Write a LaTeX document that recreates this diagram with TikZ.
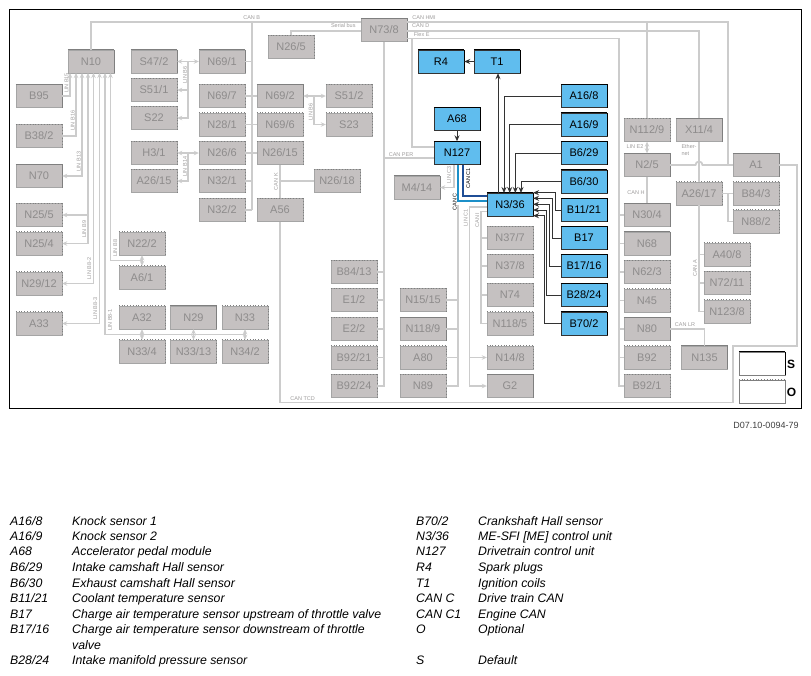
\documentclass[tikz,border=0pt]{standalone}
\usepackage{fontspec}
\usetikzlibrary{arrows.meta}
\setmainfont{Liberation Sans}
\definecolor{boxgry}{HTML}{C5C1C1}
\definecolor{txtgry}{HTML}{8E8C8C}
\definecolor{edgegry}{HTML}{7F7F7F}
\definecolor{busgry}{HTML}{CCCCCC}
\definecolor{boxblu}{HTML}{60BDEE}
\definecolor{canc}{HTML}{1C8FC8}
\definecolor{cancb}{HTML}{1F4E96}
\definecolor{ctldk}{HTML}{333333}
\tikzset{
    basebox/.style={draw, inner sep=0pt, minimum width=46pt, minimum height=23pt, font=\fontsize{11}{13}\selectfont},
    sbox/.style={basebox, fill=boxgry, draw=edgegry!70, text=txtgry,
        append after command={(\tikzlastnode.north west) edge[edgegry, line width=1.3pt] (\tikzlastnode.north east)
        (\tikzlastnode.north east) edge[edgegry, line width=1.3pt] (\tikzlastnode.south east)}},
    obox/.style={basebox, fill=boxgry, draw=edgegry!70, text=txtgry,
        append after command={(\tikzlastnode.north west) edge[edgegry, line width=1pt, dash pattern=on 1pt off 1.8pt] (\tikzlastnode.north east)
        (\tikzlastnode.north east) edge[edgegry, line width=1pt, dash pattern=on 1pt off 1.8pt] (\tikzlastnode.south east)}},
    hbox/.style={basebox, fill=boxblu, draw=black!80, text=black,
        append after command={(\tikzlastnode.north west) edge[black, line width=1.3pt] (\tikzlastnode.north east)
        (\tikzlastnode.north east) edge[black, line width=1.3pt] (\tikzlastnode.south east)}},
    bus/.style={busgry, line width=1.8pt},
    linb/.style={busgry, line width=1.2pt, >={Stealth[length=5pt, width=4.5pt]}},
    ctl/.style={ctldk, line width=1pt, >={Stealth[length=6pt, width=5pt]}},
    lbl/.style={text=txtgry!85, inner sep=0pt, font=\fontsize{5.5}{6.5}\selectfont},
    lblk/.style={text=black, inner sep=0pt, font=\fontsize{5.5}{6.5}\selectfont},
    leg/.style={anchor=base west, inner sep=0pt, font=\fontsize{12.3}{14}\selectfont\itshape},
}
\begin{document}
\begin{tikzpicture}[x=1pt, y=-1pt]
    \useasboundingbox (0,0) rectangle (811,675);
    \fill[white] (0,0) rectangle (811,675);
    \draw[black, line width=1pt] (9.5,9.5) rectangle (801,408);

    % left column
    \node[sbox] (n10) at (91,61.5){N10};
    \node[sbox] (b95) at (39,96){B95};
    \node[obox] (b382) at (39,136){B38/2};
    \node[sbox] (n70) at (39,176){N70};
    \node[obox] (n255) at (39,215){N25/5};
    \node[obox] (n254) at (39,243.5){N25/4};
    \node[obox] (n2912) at (39,283.5){N29/12};
    \node[obox] (a33) at (39,323.5){A33};

    \node[sbox] (s472) at (154,61.5){S47/2};
    \node[obox] (s511) at (154,90){S51/1};
    \node[obox] (s22) at (154,118){S22};
    \node[obox] (h31) at (154,153){H3/1};
    \node[obox] (a2615) at (154,181){A26/15};

    \node[sbox] (n691) at (222,61.5){N69/1};
    \node[obox] (n697) at (222,96){N69/7};
    \node[obox] (n281) at (222,124.5){N28/1};
    \node[obox] (n266) at (222,153){N26/6};
    \node[obox] (n321) at (222,181){N32/1};
    \node[obox] (n322) at (222,210){N32/2};

    \node[sbox] (n692) at (280,96){N69/2};
    \node[obox] (n696) at (280,124.5){N69/6};
    \node[obox] (n2615) at (280,153){N26/15};
    \node[obox] (a56) at (280,210){A56};
    \node[obox] (n265) at (291,47){N26/5};
    \node[obox] (s512) at (349,96){S51/2};
    \node[obox] (s23) at (349,124.5){S23};
    \node[obox] (n2618) at (337,181){N26/18};
    \node[sbox] (n738) at (384,30){N73/8};
    \node[sbox] (m414) at (417,187.5){M4/14};

    \node[obox] (n222) at (142,243.5){N22/2};
    \node[obox] (a61) at (142,277.5){A6/1};
    \node[obox] (a32) at (142,317.5){A32};
    \node[sbox] (n29) at (193.5,317.5){N29};
    \node[obox] (n33) at (245,317.5){N33};
    \node[obox] (n334) at (142,351.5){N33/4};
    \node[obox] (n3313) at (193.5,351.5){N33/13};
    \node[obox] (n342) at (245,351.5){N34/2};

    \node[obox] (b8413) at (354,272){B84/13};
    \node[obox] (e12) at (354,300){E1/2};
    \node[obox] (e22) at (354,329){E2/2};
    \node[obox] (b9221) at (354,357.5){B92/21};
    \node[obox] (b9224) at (354,386){B92/24};
    \node[obox] (n1515) at (423,300){N15/15};
    \node[sbox] (n1189) at (423,329){N118/9};
    \node[obox] (a80) at (423,357.5){A80};
    \node[obox] (n89) at (423,386){N89};

    \node[obox] (n377) at (510,238){N37/7};
    \node[obox] (n378) at (510,266){N37/8};
    \node[obox] (n74) at (510,295){N74};
    \node[obox] (n1185) at (510,323.5){N118/5};
    \node[obox] (n148) at (510,357.5){N14/8};
    \node[sbox] (g2) at (510,386){G2};

    % blue ones
    \node[hbox] (r4) at (441,61.5){R4};
    \node[hbox] (t1) at (497,61.5){T1};
    \node[hbox] (a68) at (457,119){A68};
    \node[hbox] (n127) at (457,153){N127};
    \node[hbox] (n336) at (510,204.5){N3/36};
    \node[hbox] (a168) at (584,96){A16/8};
    \node[hbox] (a169) at (584,124.5){A16/9};
    \node[hbox] (b629) at (584,153){B6/29};
    \node[hbox] (b630) at (584,181.5){B6/30};
    \node[hbox] (b1121) at (584,210){B11/21};
    \node[hbox] (b17) at (584,238){B17};
    \node[hbox] (b1716) at (584,266){B17/16};
    \node[hbox] (b2824) at (584,295){B28/24};
    \node[hbox] (b702) at (584,323.5){B70/2};

    % right part
    \node[obox] (n1129) at (647,130){N112/9};
    \node[sbox] (x114) at (699,130){X11/4};
    \node[sbox] (n25) at (647,165){N2/5};
    \node[sbox] (a1) at (756,165){A1};
    \node[obox] (a2617) at (699,193.5){A26/17};
    \node[obox] (b843) at (756,193.5){B84/3};
    \node[obox] (n882) at (756,221.5){N88/2};
    \node[sbox] (n304) at (647,215){N30/4};
    \node[sbox] (n68) at (647,243.5){N68};
    \node[obox] (n623) at (647,272){N62/3};
    \node[obox] (n45) at (647,300.5){N45};
    \node[sbox] (n80) at (647,329){N80};
    \node[obox] (b92) at (647,357.5){B92};
    \node[obox] (b921) at (647,386){B92/1};
    \node[obox] (a408) at (727,254.5){A40/8};
    \node[obox] (n7211) at (727,283){N72/11};
    \node[obox] (n1238) at (727,311.5){N123/8};
    \node[sbox] (n135) at (704.5,357.5){N135};

    % S and O
    \node[hbox, fill=white, draw=edgegry] (sfld) at (762,363.5){};
    \node[obox, fill=white, draw=edgegry] (ofld) at (762,391.5){};
    \node[inner sep=0pt, font=\fontsize{12}{14}\selectfont\bfseries] (stxt) at (791,364){S};
    \node[inner sep=0pt, font=\fontsize{12}{14}\selectfont\bfseries] (otxt) at (791.5,392){O};

    \coordinate (canb) at (252,21.7);
    \coordinate (canhmi) at (728,21.7);
    \coordinate (cand) at (699,30.7);
    \coordinate (serbus) at (291,30.7);
    \coordinate (flexe) at (619,38.5);
    \coordinate (flexn) at (412,38.5);
    \coordinate (flexk) at (412,147);
    \coordinate (canper) at (384,158);
    \coordinate (bump) at (699,165);
    \coordinate (cantcd) at (733,402.5);
    \coordinate (cantcdb) at (733,346);
    \coordinate (cantcdc) at (797,346);

    % CAN B
    \draw[bus] (n10.north) |- (n738.west |- canb);
    \draw[bus] (canb) -- (canb |- n322.east);
    \draw[bus] (n691.east) -- (n691.east -| canb);
    \draw[bus] (n321.east) -- (n321.east -| canb);
    \draw[bus] (n322.east) -- (n322.east -| canb);
    \draw[bus] (n697.east) -- (n692.west);
    \draw[bus] (n281.east) -- (n696.west);
    \draw[bus] (n266.east) -- (n2615.west);

    % from N73/8
    \draw[bus] (n738.west |- serbus) -| (n265.north);
    \draw[bus] (n738.east |- canhmi) -- (canhmi) -- (canhmi |- bump);
    \draw[bus] (n738.east |- cand) -| (x114.north);
    \draw[bus] (n1129.north |- canhmi) -- (n1129.north);
    \draw[bus] (n738.east |- flexe) -- (flexe) -- (flexe |- b921.east) -- (b921.west);
    \draw[bus] (flexn) -- (flexk) -- (flexk -| n127.west);
    \draw[bus] (n738.south) -- (n738.south |- b9224.east) -- (b9224.east);
    \draw[bus] (n738.south |- canper) -- (n127.west |- canper);
    \draw[bus] (b8413.east) -- (b8413.east -| n738.south);
    \draw[bus] (e12.east) -- (e12.east -| n738.south);
    \draw[bus] (e22.east) -- (e22.east -| n738.south);
    \draw[bus] (b9221.east) -- (b9221.east -| n738.south);

    \draw[bus] (n304.west) -- (n304.west -| flexe);
    \draw[bus] (n68.west) -- (n68.west -| flexe);
    \draw[bus] (n623.west) -- (n623.west -| flexe);
    \draw[bus] (n45.west) -- (n45.west -| flexe);
    \draw[bus] (n80.west) -- (n80.west -| flexe);
    \draw[bus] (b92.west) -- (b92.west -| flexe);

    % right side
    \draw[linb, <->] (n1129.south) -- (n25.north);
    \draw[bus] (n25.south) -- (n304.north);
    \draw[bus] (n25.east) -- ([xshift=-3.5pt]bump) arc[start angle=180, end angle=0, radius=3.5pt] -- (a1.west);
    \draw[bus] (x114.south) -- (a2617.north);
    \draw[bus] (a2617.east) -- (b843.west);
    \draw[linb] (canhmi |- a2617.east) |- (n882.west);
    \draw[bus] (a2617.south) |- (n1238.west);
    \draw[bus] (a408.west) -- (a408.west -| a2617.south);
    \draw[bus] (n7211.west) -- (n7211.west -| a2617.south);
    \draw[bus] (n80.east) -| (n135.north);

    % CAN TCD
    \draw[bus] (a56.south) |- (cantcd) -- (cantcdb) -- (cantcdc) |- (a1.east);
    \draw[bus] (n2615.south) -- (a56.north);
    \draw[bus] (n2618.west) -- (n2618.west -| a56.north);

    % LIN to N10
    \coordinate (l15) at (70,73);
    \coordinate (l16) at (76,73);
    \coordinate (l13) at (82,73);
    \coordinate (l9) at (88,73);
    \coordinate (l82) at (93.5,73);
    \coordinate (l83) at (99.5,73);
    \coordinate (l81) at (105,73);
    \coordinate (l8) at (110.5,73);
    \coordinate (l81b) at (245,334.3);
    \coordinate (l8b) at (142,260.7);
    \draw[linb, <-] (l15) |- (b95.east);
    \draw[linb, <-] (l16) |- (b382.east);
    \draw[linb, <->] (l13) |- (n70.east);
    \draw[linb, <->] (l9) |- (n254.east);
    \draw[linb, ->] (l9 |- n255.east) -- (n255.east);
    \draw[linb, <->] (l82) |- (n2912.east);
    \draw[linb, <->] (l83) |- (a33.east);
    \draw[linb, <-] (l81) |- (l81b);
    \draw[linb, <-] (l8) |- (l8b);
    \draw[linb, <->] (n222.south) -- (a61.north);
    \draw[linb, <->] (a32.south) -- (n334.north);
    \draw[linb, <->] (n29.south) -- (n3313.north);
    \draw[linb, <->] (n33.south) -- (n342.north);

    % LIN B6, B14
    \coordinate (lb6) at (188,61.5);
    \coordinate (lb6r) at (314,96);
    \coordinate (lb14) at (188,153);
    \draw[linb, <->] (s472.east) -- (n691.west);
    \draw[linb, ->] (lb6) |- (s22.east);
    \draw[linb, ->] (lb6 |- s511.east) -- (s511.east);
    \draw[linb, <->] (n692.east) -- (s512.west);
    \draw[linb, ->] (lb6r) |- (s23.west);
    \draw[linb, <->] (h31.east) -- (n266.west);
    \draw[linb, ->] (lb14) |- (a2615.east);

    % CAN C, grey part
    \coordinate (cancn) at (457.7,165);
    \coordinate (cancb) at (463.3,165);
    \coordinate (linc3) at (454,165);
    \coordinate (linc1) at (469.3,207);
    \coordinate (cani) at (481,211.5);
    \draw[bus] (cancn |- n336.west) -- (cancn |- n89.east) -- (n89.east);
    \draw[bus] (n1515.east) -- (n1515.east -| cancn);
    \draw[bus] (n1189.east) -- (n1189.east -| cancn);
    \draw[bus] (a80.east) -- (a80.east -| cancn);
    \draw[linb, ->] (linc3) |- (m414.east);
    \draw[linb, ->] (n336.west |- linc1) -| (linc1 |- g2.west) -- (g2.west);
    \draw[linb, ->] (linc1 |- n148.west) -- (n148.west);
    \draw[bus] (n336.west |- cani) -| (cani |- n1185.west) -- (n1185.west);
    \draw[linb] (n377.west) -- (n377.west -| cani);
    \draw[linb] (n378.west) -- (n378.west -| cani);
    \draw[linb] (n74.west) -- (n74.west -| cani);

    % CAN C, CAN C1
    \draw[canc, line width=1.8pt] (cancn) |- (n336.west |- 0,200.8);
    \draw[cancb, line width=1.8pt] (cancb) |- (n336.west |- 0,196);

    % control lines
    \draw[ctl, ->] (t1.west) -- (r4.east);
    \draw[ctl, ->] (a68.south) -- (n127.north);
    \coordinate (n336t) at (498,193);
    \coordinate (at1) at (504,193);
    \coordinate (at2) at (509.7,193);
    \coordinate (at3) at (515.3,193);
    \coordinate (at4) at (521,193);
    \draw[ctl, ->] (n336t) -- (n336t |- t1.south);
    \draw[ctl, ->] (a168.west) -| (at1);
    \draw[ctl, ->] (a169.west) -| (at2);
    \draw[ctl, ->] (b629.west) -| (at3);
    \draw[ctl, ->] (b630.west) -| (at4);

    \coordinate (ar1) at (533,192.7);
    \coordinate (ar2) at (533,198.3);
    \coordinate (ar3) at (533,204.3);
    \coordinate (ar4) at (533,210);
    \coordinate (ar5) at (533,215.7);
    \coordinate (kn1) at (555.7,192.7);
    \coordinate (kn2) at (552.3,198.3);
    \coordinate (kn3) at (549.3,204.3);
    \coordinate (kn4) at (546.7,210);
    \coordinate (kn5) at (544,215.7);
    \draw[ctl, <-] (ar1) -- (kn1) |- (b1121.west);
    \draw[ctl, <-] (ar2) -- (kn2) |- (b17.west);
    \draw[ctl, <-] (ar3) -- (kn3) |- (b1716.west);
    \draw[ctl, <-] (ar4) -- (kn4) |- (b2824.west);
    \draw[ctl, <-] (ar5) -- (kn5) |- (b702.west);

    % bus names
    \node[lbl] (tcanb) at (251.7,17.3){CAN B};
    \node[lbl] (tser) at (343.3,26){Serial bus};
    \node[lbl] (thmi) at (424,17.3){CAN HMI};
    \node[lbl] (tcand) at (420.7,26){CAN D};
    \node[lbl] (tflex) at (421.7,34.7){Flex E};
    \node[lbl] (tper) at (401,154.3){CAN PER};
    \node[lbl] (ttcd) at (302.7,399){CAN TCD};
    \node[lbl] (te2) at (635,147){LIN E2};
    \node[lbl, align=left] (teth) at (689,150){Ether-\\net};
    \node[lbl] (tcanh) at (636,192.7){CAN H};
    \node[lbl] (tlr) at (685,325){CAN LR};
    \node[lbl, rotate=90] (tb15) at (66.5,83){LIN B15};
    \node[lbl, rotate=90] (tb16) at (72.7,120.7){LIN B16};
    \node[lbl, rotate=90] (tb13) at (78.7,161.7){LIN B13};
    \node[lbl, rotate=90] (tb9) at (84.3,229.3){LIN B9};
    \node[lbl, rotate=90] (tb82) at (89.3,268.7){LIN B8-2};
    \node[lbl, rotate=90] (tb83) at (95.3,308.7){LIN B8-3};
    \node[lbl, rotate=90] (tb81) at (110,320){LIN B8-1};
    \node[lbl, rotate=90] (tb8) at (115.3,248.3){LIN B8};
    \node[lbl, rotate=90] (tb6) at (185,75){LIN B6};
    \node[lbl, rotate=90] (tb14) at (185,166.7){LIN B14};
    \node[lbl, rotate=90] (tb6r) at (310.7,111.7){LIN B6};
    \node[lbl, rotate=90] (tcank) at (276,181.7){CAN K};
    \node[lbl, rotate=90] (tc3) at (449,175){LIN C3};
    \node[lbl, rotate=90] (tc1) at (465.7,218){LIN C1};
    \node[lbl, rotate=90] (tcani) at (477.3,220){CAN I};
    \node[lbl, rotate=90] (tcana) at (695,268.3){CAN A};
    \node[lblk, rotate=90] (tcanc1) at (468.3,178.3){CAN C1};
    \node[lblk, rotate=90] (tcanc) at (454.7,201.7){CAN C};

    \node[inner sep=0pt, text=black!75, font=\fontsize{9}{11}\selectfont] (docnr) at (766,425.5){D07.10-0094-79};

    % legend
    \node[leg] (k1) at (10,525){A16/8};
    \node[leg] (d1) at (72,525){Knock sensor 1};
    \node[leg] (k2) at (10,540){A16/9};
    \node[leg] (d2) at (72,540){Knock sensor 2};
    \node[leg] (k3) at (10,555){A68};
    \node[leg] (d3) at (72,555){Accelerator pedal module};
    \node[leg] (k4) at (10,571){B6/29};
    \node[leg] (d4) at (72,571){Intake camshaft Hall sensor};
    \node[leg] (k5) at (10,587){B6/30};
    \node[leg] (d5) at (72,587){Exhaust camshaft Hall sensor};
    \node[leg] (k6) at (10,602){B11/21};
    \node[leg] (d6) at (72,602){Coolant temperature sensor};
    \node[leg] (k7) at (10,618){B17};
    \node[leg] (d7) at (72,618){Charge air temperature sensor upstream of throttle valve};
    \node[leg] (k8) at (10,633){B17/16};
    \node[leg] (d8) at (72,633){Charge air temperature sensor downstream of throttle};
    \node[leg] (d8b) at (72,649){valve};
    \node[leg] (k9) at (10,664){B28/24};
    \node[leg] (d9) at (72,664){Intake manifold pressure sensor};

    \node[leg] (k10) at (416,525){B70/2};
    \node[leg] (d10) at (478,525){Crankshaft Hall sensor};
    \node[leg] (k11) at (416,540){N3/36};
    \node[leg] (d11) at (478,540){ME-SFI [ME] control unit};
    \node[leg] (k12) at (416,555){N127};
    \node[leg] (d12) at (478,555){Drivetrain control unit};
    \node[leg] (k13) at (416,571){R4};
    \node[leg] (d13) at (478,571){Spark plugs};
    \node[leg] (k14) at (416,587){T1};
    \node[leg] (d14) at (478,587){Ignition coils};
    \node[leg] (k15) at (416,602){CAN C};
    \node[leg] (d15) at (478,602){Drive train CAN};
    \node[leg] (k16) at (416,618){CAN C1};
    \node[leg] (d16) at (478,618){Engine CAN};
    \node[leg] (k17) at (416,633){O};
    \node[leg] (d17) at (478,633){Optional};
    \node[leg] (k18) at (416,664){S};
    \node[leg] (d18) at (478,664){Default};
\end{tikzpicture}
\end{document}
